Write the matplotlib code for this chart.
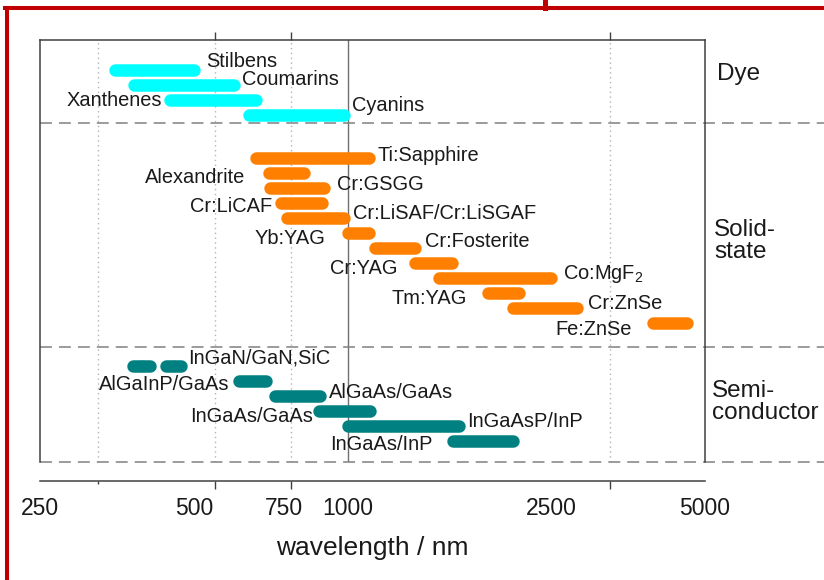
import numpy as np
import matplotlib
matplotlib.use("Agg")
import matplotlib.pyplot as plt
from matplotlib.lines import Line2D

plt.rcParams['font.family'] = ['Liberation Sans', 'DejaVu Sans']
plt.rcParams['mathtext.default'] = 'regular'

# tuning ranges (nm) for each laser family
dye_names = ['Stilbens', 'Coumarins', 'Xanthenes', 'Cyanins']
dye_lo = [341, 371, 437, 624]
dye_hi = [514, 615, 680, 1010]

solid_names = ['Ti:Sapphire', 'Alexandrite', 'Cr:GSGG', 'Cr:LiCAF',
               'Cr:LiSAF/Cr:LiSGAF', 'Yb:YAG', 'Cr:Fosterite', 'Cr:YAG',
               'Co:MgF$_2$', 'Tm:YAG', 'Cr:ZnSe', 'Fe:ZnSe']
solid_lo = [644, 683, 686, 721, 741, 975, 1101, 1318, 1468, 1831, 2049, 3851]
solid_hi = [1131, 844, 923, 915, 1010, 1131, 1391, 1644, 2567, 2222, 2885, 4737]

semi_names = ['InGaN/GaN,SiC', 'AlGaInP/GaAs', 'AlGaAs/GaAs', 'InGaAs/GaAs',
              'InGaAsP/InP', 'InGaAs/InP']
semi_lo = [370, 597, 701, 855, 975, 1564]
semi_hi = [485, 711, 907, 1136, 1696, 2163]
# InGaN/GaN,SiC is a set of short separate lines
ingan_lo = [370, 387, 429, 445]
ingan_hi = [405, 422, 466, 485]

group_names = ['Dye', 'Solid-\nstate', 'Semi-\nconductor']

tick_vals = [250, 500, 750, 1000, 2500, 5000]
mark_vals = [250, 325, 550, 775, 1000, 3260, 5000]

# label placement: side of bar, x/y nudge in pixels
dye_lab = [('r', 6, -8), ('r', 2, -5), ('l', -2, 1), ('r', 2, -9)]
solid_lab = [('r', 2, -3), ('l', -18, 4), ('r', 7, -4), ('l', -3, 3),
             ('r', 3, -5), ('l', -17, 5), ('r', 4, -7), ('l', -12, 5),
             ('r', 6, -4), ('l', -15, 5), ('r', 5, -5), ('l', -15, 6)]
semi_lab = [('r', 1, -8), ('l', -4, 4), ('r', 3, -3), ('l', 0, 6),
            ('r', 2, -4), ('l', -15, 4)]

c_dye = '#00ffff'
c_solid = '#ff8000'
c_semi = '#008080'
txt = '#1a1a1a'
frame = '#404040'

W, H = 824, 580
fig = plt.figure(figsize=(W / 100, H / 100), dpi=100)
ax = fig.add_axes([40 / W, 1 - 462 / H, 665 / W, 422 / H])
ax.set_xscale('log')
ax.set_xlim(250, 5000)
ax.set_ylim(26.15, -1.98)

bar_lw = 9
# pull line ends in so the round caps stop at the range ends
cap = 20 ** (6.25 / 665)


def bar(lo, hi, y, color):
    ax.plot([lo * cap, hi / cap], [y, y], color=color, lw=bar_lw,
            solid_capstyle='round', zorder=3)


def label(name, lo, hi, y, spec):
    side, dx, dy = spec
    if side == 'r':
        ax.annotate(name, (hi, y), xytext=(dx, -dy), textcoords='offset pixels',
                    ha='left', va='center', fontsize=14.4, color=txt)
    else:
        ax.annotate(name, (lo, y), xytext=(dx, -dy), textcoords='offset pixels',
                    ha='right', va='center', fontsize=14.4, color=txt)


dye_y = np.arange(len(dye_names)) + 0.0
solid_y = np.arange(len(solid_names)) + 5.9
semi_y = np.arange(len(semi_names)) + 19.75

for n, lo, hi, y, s in zip(dye_names, dye_lo, dye_hi, dye_y, dye_lab):
    bar(lo, hi, y, c_dye)
    label(n, lo, hi, y, s)

for n, lo, hi, y, s in zip(solid_names, solid_lo, solid_hi, solid_y, solid_lab):
    bar(lo, hi, y, c_solid)
    label(n, lo, hi, y, s)

for i, (n, lo, hi, y, s) in enumerate(zip(semi_names, semi_lo, semi_hi, semi_y, semi_lab)):
    if i == 0:
        for a, b in zip(ingan_lo, ingan_hi):
            bar(a, b, y, c_semi)
    else:
        bar(lo, hi, y, c_semi)
    label(n, lo, hi, y, s)

# vertical guides
for v in mark_vals[1:-1]:
    if v == 1000:
        ax.axvline(v, color='#707070', lw=1.0, zorder=1)
    else:
        ax.axvline(v, color='#b4b4b4', lw=1.0, ls=(0, (1, 2.5)), zorder=1)

# dashed group separators, running out past the frame
sep_y = [3.55, 18.49]
ytr = ax.get_yaxis_transform()
for yy in sep_y:
    ax.plot([0, 1.18], [yy, yy], transform=ytr, color='#808080', lw=1.1,
            ls=(0, (7.8, 4.6)), clip_on=False, zorder=2)
ax.plot([0, 1.18], [0, 0], transform=ax.transAxes, color='#808080', lw=1.1,
        ls=(0, (7.8, 4.6)), clip_on=False, zorder=2)

# frame and axis
for s in ['left', 'right', 'top']:
    ax.spines[s].set_color(frame)
    ax.spines[s].set_linewidth(1.1)
ax.spines['bottom'].set_position(('outward', 14))
ax.spines['bottom'].set_color(frame)
ax.spines['bottom'].set_linewidth(1.1)

ax.set_yticks([])
ax.set_xticks(tick_vals, [str(v) for v in tick_vals])
ax.xaxis.set_minor_formatter(matplotlib.ticker.NullFormatter())
ax.set_xticks(mark_vals, minor=True)
ax.tick_params(axis='x', which='major', length=0, pad=11.5, labelsize=16.5,
               labelcolor=txt)
ax.tick_params(axis='x', which='minor', direction='out', length=5.5, width=1.0,
               color=frame, top=True, bottom=True)
for t, v in zip(ax.xaxis.get_minor_ticks(len(mark_vals)), mark_vals):
    if v == 1000:
        t.tick1line.set_markersize(8.6)
        t.tick2line.set_markersize(7.2)
    elif v in (250, 5000):
        t.tick1line.set_markersize(2.2)
        t.tick2line.set_visible(False)

fig.text(372 / W, 1 - 548 / H, 'wavelength / nm', ha='center', va='center',
         fontsize=19, color=txt)

# family names beside the frame
fig.text(717 / W, 1 - 74 / H, group_names[0], ha='left', va='center',
         fontsize=17.5, color=txt)
fig.text(714 / W, 1 - 241 / H, group_names[1], ha='left', va='center',
         fontsize=17.5, color=txt, linespacing=1.05)
fig.text(712 / W, 1 - 402 / H, group_names[2], ha='left', va='center',
         fontsize=17.5, color=txt, linespacing=1.05)

# red slide border
red = '#c00000'
fig.add_artist(Line2D([6.5 / W, 6.5 / W], [0, 1 - 8 / H], color=red, lw=2.9,
                      transform=fig.transFigure))
fig.add_artist(Line2D([5 / W, 1], [1 - 8 / H, 1 - 8 / H], color=red, lw=2.9,
                      transform=fig.transFigure))
fig.add_artist(Line2D([544.5 / W, 544.5 / W], [1 - 8 / H, 1], color=red, lw=3.6,
                      transform=fig.transFigure))

fig.savefig('out.png', dpi=100)
